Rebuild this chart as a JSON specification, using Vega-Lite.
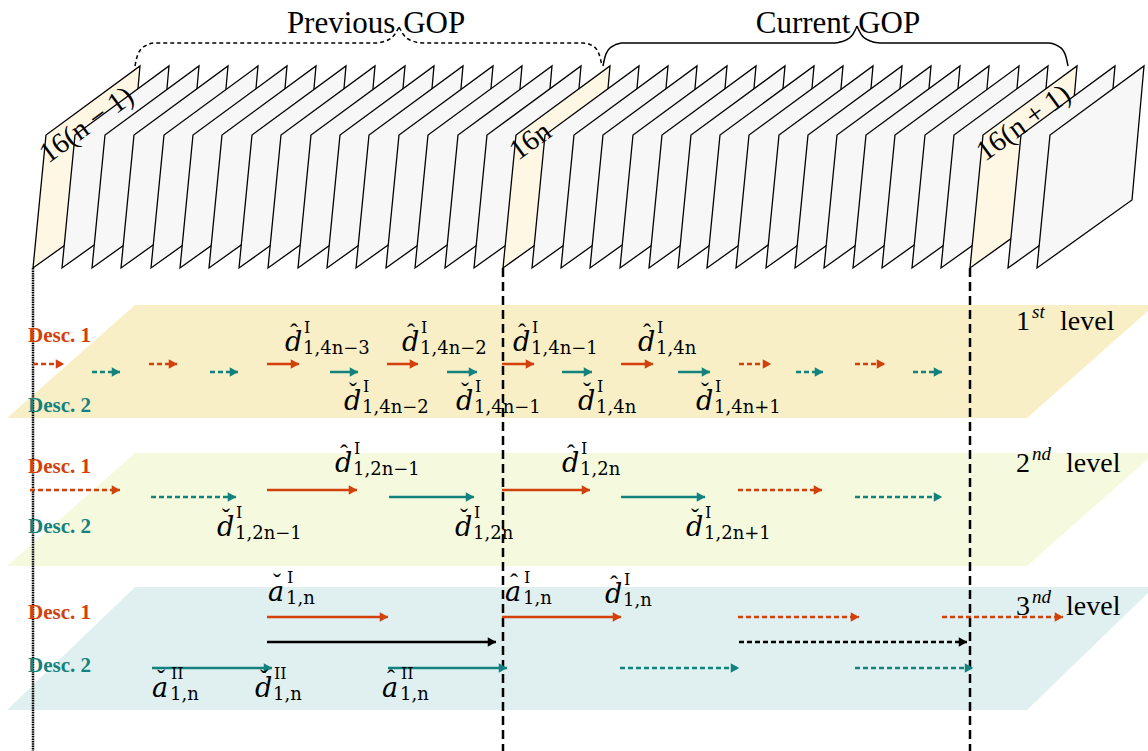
{
"$schema": "https://vega.github.io/schema/vega-lite/v6.json",
"width": 1148, "height": 751, "padding": 0,
"autosize": {"type": "none"},
"background": "white",
"config": {"view": {"stroke": null}},
"datasets": {
"planes": [
{"p":"p1","k":1,"x":7,"y":418},{"p":"p1","k":2,"x":135,"y":305},{"p":"p1","k":3,"x":1148,"y":305},{"p":"p1","k":4,"x":1148,"y":311},{"p":"p1","k":5,"x":1027,"y":418},
{"p":"p2","k":1,"x":7,"y":566},{"p":"p2","k":2,"x":135,"y":453},{"p":"p2","k":3,"x":1148,"y":453},{"p":"p2","k":4,"x":1148,"y":459},{"p":"p2","k":5,"x":1027,"y":566},
{"p":"p3","k":1,"x":7,"y":710},{"p":"p3","k":2,"x":135,"y":587},{"p":"p3","k":3,"x":1148,"y":587},{"p":"p3","k":4,"x":1148,"y":593},{"p":"p3","k":5,"x":1027,"y":710}
],
"frames": [
{"f":"f00","c":"y","k":1,"x":33,"y":268},{"f":"f00","c":"y","k":2,"x":46,"y":135},{"f":"f00","c":"y","k":3,"x":140,"y":66},{"f":"f00","c":"y","k":4,"x":128,"y":200},
{"f":"f01","c":"w","k":1,"x":62,"y":268},{"f":"f01","c":"w","k":2,"x":75,"y":135},{"f":"f01","c":"w","k":3,"x":169,"y":66},{"f":"f01","c":"w","k":4,"x":157,"y":200},
{"f":"f02","c":"w","k":1,"x":92,"y":268},{"f":"f02","c":"w","k":2,"x":105,"y":135},{"f":"f02","c":"w","k":3,"x":199,"y":66},{"f":"f02","c":"w","k":4,"x":187,"y":200},
{"f":"f03","c":"w","k":1,"x":121,"y":268},{"f":"f03","c":"w","k":2,"x":134,"y":135},{"f":"f03","c":"w","k":3,"x":228,"y":66},{"f":"f03","c":"w","k":4,"x":216,"y":200},
{"f":"f04","c":"w","k":1,"x":151,"y":268},{"f":"f04","c":"w","k":2,"x":164,"y":135},{"f":"f04","c":"w","k":3,"x":258,"y":66},{"f":"f04","c":"w","k":4,"x":246,"y":200},
{"f":"f05","c":"w","k":1,"x":180,"y":268},{"f":"f05","c":"w","k":2,"x":193,"y":135},{"f":"f05","c":"w","k":3,"x":287,"y":66},{"f":"f05","c":"w","k":4,"x":275,"y":200},
{"f":"f06","c":"w","k":1,"x":209,"y":268},{"f":"f06","c":"w","k":2,"x":222,"y":135},{"f":"f06","c":"w","k":3,"x":316,"y":66},{"f":"f06","c":"w","k":4,"x":304,"y":200},
{"f":"f07","c":"w","k":1,"x":239,"y":268},{"f":"f07","c":"w","k":2,"x":252,"y":135},{"f":"f07","c":"w","k":3,"x":346,"y":66},{"f":"f07","c":"w","k":4,"x":334,"y":200},
{"f":"f08","c":"w","k":1,"x":268,"y":268},{"f":"f08","c":"w","k":2,"x":281,"y":135},{"f":"f08","c":"w","k":3,"x":375,"y":66},{"f":"f08","c":"w","k":4,"x":363,"y":200},
{"f":"f09","c":"w","k":1,"x":298,"y":268},{"f":"f09","c":"w","k":2,"x":311,"y":135},{"f":"f09","c":"w","k":3,"x":405,"y":66},{"f":"f09","c":"w","k":4,"x":393,"y":200},
{"f":"f10","c":"w","k":1,"x":327,"y":268},{"f":"f10","c":"w","k":2,"x":340,"y":135},{"f":"f10","c":"w","k":3,"x":434,"y":66},{"f":"f10","c":"w","k":4,"x":422,"y":200},
{"f":"f11","c":"w","k":1,"x":356,"y":268},{"f":"f11","c":"w","k":2,"x":369,"y":135},{"f":"f11","c":"w","k":3,"x":463,"y":66},{"f":"f11","c":"w","k":4,"x":451,"y":200},
{"f":"f12","c":"w","k":1,"x":386,"y":268},{"f":"f12","c":"w","k":2,"x":399,"y":135},{"f":"f12","c":"w","k":3,"x":493,"y":66},{"f":"f12","c":"w","k":4,"x":481,"y":200},
{"f":"f13","c":"w","k":1,"x":415,"y":268},{"f":"f13","c":"w","k":2,"x":428,"y":135},{"f":"f13","c":"w","k":3,"x":522,"y":66},{"f":"f13","c":"w","k":4,"x":510,"y":200},
{"f":"f14","c":"w","k":1,"x":445,"y":268},{"f":"f14","c":"w","k":2,"x":458,"y":135},{"f":"f14","c":"w","k":3,"x":552,"y":66},{"f":"f14","c":"w","k":4,"x":540,"y":200},
{"f":"f15","c":"w","k":1,"x":474,"y":268},{"f":"f15","c":"w","k":2,"x":487,"y":135},{"f":"f15","c":"w","k":3,"x":581,"y":66},{"f":"f15","c":"w","k":4,"x":569,"y":200},
{"f":"f16","c":"y","k":1,"x":503,"y":268},{"f":"f16","c":"y","k":2,"x":516,"y":135},{"f":"f16","c":"y","k":3,"x":610,"y":66},{"f":"f16","c":"y","k":4,"x":598,"y":200},
{"f":"f17","c":"w","k":1,"x":532,"y":268},{"f":"f17","c":"w","k":2,"x":545,"y":135},{"f":"f17","c":"w","k":3,"x":639,"y":66},{"f":"f17","c":"w","k":4,"x":627,"y":200},
{"f":"f18","c":"w","k":1,"x":561,"y":268},{"f":"f18","c":"w","k":2,"x":574,"y":135},{"f":"f18","c":"w","k":3,"x":668,"y":66},{"f":"f18","c":"w","k":4,"x":656,"y":200},
{"f":"f19","c":"w","k":1,"x":590,"y":268},{"f":"f19","c":"w","k":2,"x":603,"y":135},{"f":"f19","c":"w","k":3,"x":697,"y":66},{"f":"f19","c":"w","k":4,"x":685,"y":200},
{"f":"f20","c":"w","k":1,"x":620,"y":268},{"f":"f20","c":"w","k":2,"x":633,"y":135},{"f":"f20","c":"w","k":3,"x":727,"y":66},{"f":"f20","c":"w","k":4,"x":715,"y":200},
{"f":"f21","c":"w","k":1,"x":649,"y":268},{"f":"f21","c":"w","k":2,"x":662,"y":135},{"f":"f21","c":"w","k":3,"x":756,"y":66},{"f":"f21","c":"w","k":4,"x":744,"y":200},
{"f":"f22","c":"w","k":1,"x":678,"y":268},{"f":"f22","c":"w","k":2,"x":691,"y":135},{"f":"f22","c":"w","k":3,"x":785,"y":66},{"f":"f22","c":"w","k":4,"x":773,"y":200},
{"f":"f23","c":"w","k":1,"x":707,"y":268},{"f":"f23","c":"w","k":2,"x":720,"y":135},{"f":"f23","c":"w","k":3,"x":814,"y":66},{"f":"f23","c":"w","k":4,"x":802,"y":200},
{"f":"f24","c":"w","k":1,"x":736,"y":268},{"f":"f24","c":"w","k":2,"x":749,"y":135},{"f":"f24","c":"w","k":3,"x":843,"y":66},{"f":"f24","c":"w","k":4,"x":831,"y":200},
{"f":"f25","c":"w","k":1,"x":766,"y":268},{"f":"f25","c":"w","k":2,"x":779,"y":135},{"f":"f25","c":"w","k":3,"x":873,"y":66},{"f":"f25","c":"w","k":4,"x":861,"y":200},
{"f":"f26","c":"w","k":1,"x":795,"y":268},{"f":"f26","c":"w","k":2,"x":808,"y":135},{"f":"f26","c":"w","k":3,"x":902,"y":66},{"f":"f26","c":"w","k":4,"x":890,"y":200},
{"f":"f27","c":"w","k":1,"x":824,"y":268},{"f":"f27","c":"w","k":2,"x":837,"y":135},{"f":"f27","c":"w","k":3,"x":931,"y":66},{"f":"f27","c":"w","k":4,"x":919,"y":200},
{"f":"f28","c":"w","k":1,"x":853,"y":268},{"f":"f28","c":"w","k":2,"x":866,"y":135},{"f":"f28","c":"w","k":3,"x":960,"y":66},{"f":"f28","c":"w","k":4,"x":948,"y":200},
{"f":"f29","c":"w","k":1,"x":882,"y":268},{"f":"f29","c":"w","k":2,"x":895,"y":135},{"f":"f29","c":"w","k":3,"x":989,"y":66},{"f":"f29","c":"w","k":4,"x":977,"y":200},
{"f":"f30","c":"w","k":1,"x":912,"y":268},{"f":"f30","c":"w","k":2,"x":925,"y":135},{"f":"f30","c":"w","k":3,"x":1019,"y":66},{"f":"f30","c":"w","k":4,"x":1007,"y":200},
{"f":"f31","c":"w","k":1,"x":941,"y":268},{"f":"f31","c":"w","k":2,"x":954,"y":135},{"f":"f31","c":"w","k":3,"x":1048,"y":66},{"f":"f31","c":"w","k":4,"x":1036,"y":200},
{"f":"f32","c":"y","k":1,"x":970,"y":268},{"f":"f32","c":"y","k":2,"x":983,"y":135},{"f":"f32","c":"y","k":3,"x":1077,"y":66},{"f":"f32","c":"y","k":4,"x":1065,"y":200},
{"f":"f33","c":"w","k":1,"x":1008,"y":268},{"f":"f33","c":"w","k":2,"x":1021,"y":135},{"f":"f33","c":"w","k":3,"x":1115,"y":66},{"f":"f33","c":"w","k":4,"x":1103,"y":200},
{"f":"f34","c":"w","k":1,"x":1037,"y":268},{"f":"f34","c":"w","k":2,"x":1050,"y":135},{"f":"f34","c":"w","k":3,"x":1144,"y":66},{"f":"f34","c":"w","k":4,"x":1132,"y":200}
],
"braces": [
{"b":"pL","ls":"bdash","k":1,"x":135,"y":66},{"b":"pL","ls":"bdash","k":2,"x":138,"y":54},{"b":"pL","ls":"bdash","k":3,"x":145,"y":46},{"b":"pL","ls":"bdash","k":4,"x":155,"y":43},{"b":"pL","ls":"bdash","k":5,"x":375,"y":43},{"b":"pL","ls":"bdash","k":6,"x":388,"y":40},{"b":"pL","ls":"bdash","k":7,"x":395,"y":34},{"b":"pL","ls":"bdash","k":8,"x":399,"y":27},
{"b":"pR","ls":"bdash","k":1,"x":399,"y":27},{"b":"pR","ls":"bdash","k":2,"x":403,"y":34},{"b":"pR","ls":"bdash","k":3,"x":410,"y":40},{"b":"pR","ls":"bdash","k":4,"x":423,"y":43},{"b":"pR","ls":"bdash","k":5,"x":583,"y":43},{"b":"pR","ls":"bdash","k":6,"x":593,"y":46},{"b":"pR","ls":"bdash","k":7,"x":599,"y":54},{"b":"pR","ls":"bdash","k":8,"x":602,"y":66},
{"b":"cL","ls":"solid","k":1,"x":603,"y":66},{"b":"cL","ls":"solid","k":2,"x":606,"y":54},{"b":"cL","ls":"solid","k":3,"x":613,"y":46},{"b":"cL","ls":"solid","k":4,"x":623,"y":43},{"b":"cL","ls":"solid","k":5,"x":833,"y":43},{"b":"cL","ls":"solid","k":6,"x":846,"y":40},{"b":"cL","ls":"solid","k":7,"x":853,"y":34},{"b":"cL","ls":"solid","k":8,"x":857,"y":26},
{"b":"cR","ls":"solid","k":1,"x":857,"y":26},{"b":"cR","ls":"solid","k":2,"x":861,"y":34},{"b":"cR","ls":"solid","k":3,"x":868,"y":40},{"b":"cR","ls":"solid","k":4,"x":881,"y":43},{"b":"cR","ls":"solid","k":5,"x":1048,"y":43},{"b":"cR","ls":"solid","k":6,"x":1058,"y":46},{"b":"cR","ls":"solid","k":7,"x":1065,"y":54},{"b":"cR","ls":"solid","k":8,"x":1068,"y":66}
],
"flabels": [
{"t":"16(n − 1)","x":48,"y":164},
{"t":"16n","x":518,"y":161},
{"t":"16(n + 1)","x":985,"y":162}
],
"titles": [
{"t":"Previous GOP","x":376,"y":33},
{"t":"Current GOP","x":838,"y":33}
],
"vlines": [
{"x":33,"y1":268,"y2":751,"ls":"dot"},
{"x":503,"y1":268,"y2":751,"ls":"vdash"},
{"x":970,"y1":268,"y2":751,"ls":"vdash"}
],
"arrows": [
{"x1":33,"x2":64,"y":364,"d":"d1","ls":"dashed"},
{"x1":149,"x2":177,"y":364,"d":"d1","ls":"dashed"},
{"x1":267,"x2":299,"y":364,"d":"d1","ls":"solid"},
{"x1":387,"x2":418,"y":364,"d":"d1","ls":"solid"},
{"x1":502,"x2":534,"y":364,"d":"d1","ls":"solid"},
{"x1":621,"x2":653,"y":364,"d":"d1","ls":"solid"},
{"x1":739,"x2":771,"y":364,"d":"d1","ls":"dashed"},
{"x1":855,"x2":885,"y":364,"d":"d1","ls":"dashed"},
{"x1":92,"x2":120,"y":372,"d":"d2","ls":"dashed"},
{"x1":210,"x2":238,"y":372,"d":"d2","ls":"dashed"},
{"x1":330,"x2":358,"y":372,"d":"d2","ls":"solid"},
{"x1":447,"x2":477,"y":372,"d":"d2","ls":"solid"},
{"x1":562,"x2":592,"y":372,"d":"d2","ls":"solid"},
{"x1":678,"x2":710,"y":372,"d":"d2","ls":"solid"},
{"x1":796,"x2":823,"y":372,"d":"d2","ls":"dashed"},
{"x1":913,"x2":942,"y":372,"d":"d2","ls":"dashed"},
{"x1":30,"x2":120,"y":490,"d":"d1","ls":"dashed"},
{"x1":267,"x2":357,"y":490,"d":"d1","ls":"solid"},
{"x1":502,"x2":590,"y":490,"d":"d1","ls":"solid"},
{"x1":738,"x2":822,"y":490,"d":"d1","ls":"dashed"},
{"x1":151,"x2":236,"y":497,"d":"d2","ls":"dashed"},
{"x1":389,"x2":474,"y":497,"d":"d2","ls":"solid"},
{"x1":621,"x2":705,"y":497,"d":"d2","ls":"solid"},
{"x1":855,"x2":942,"y":497,"d":"d2","ls":"dashed"},
{"x1":267,"x2":388,"y":617,"d":"d1","ls":"solid"},
{"x1":502,"x2":621,"y":617,"d":"d1","ls":"solid"},
{"x1":738,"x2":859,"y":617,"d":"d1","ls":"dashed"},
{"x1":942,"x2":1063,"y":617,"d":"d1","ls":"dashed"},
{"x1":267,"x2":496,"y":642,"d":"k","ls":"solid"},
{"x1":739,"x2":967,"y":642,"d":"k","ls":"dashed"},
{"x1":152,"x2":272,"y":668,"d":"d2","ls":"solid"},
{"x1":388,"x2":507,"y":668,"d":"d2","ls":"solid"},
{"x1":620,"x2":739,"y":668,"d":"d2","ls":"dashed"},
{"x1":855,"x2":973,"y":668,"d":"d2","ls":"dashed"}
],
"desc": [
{"t":"Desc. 1","d":"d1","x":28,"y":342},
{"t":"Desc. 2","d":"d2","x":28,"y":412},
{"t":"Desc. 1","d":"d1","x":28,"y":473},
{"t":"Desc. 2","d":"d2","x":28,"y":533},
{"t":"Desc. 1","d":"d1","x":28,"y":619},
{"t":"Desc. 2","d":"d2","x":28,"y":672}
],
"math": [
{"b":"d","a":"ˆ","sp":"I","sb":"1,4n−3","x":285,"y":351},
{"b":"d","a":"ˆ","sp":"I","sb":"1,4n−2","x":402,"y":351},
{"b":"d","a":"ˆ","sp":"I","sb":"1,4n−1","x":513,"y":351},
{"b":"d","a":"ˆ","sp":"I","sb":"1,4n","x":638,"y":351},
{"b":"d","a":"ˇ","sp":"I","sb":"1,4n−2","x":344,"y":410},
{"b":"d","a":"ˇ","sp":"I","sb":"1,4n−1","x":456,"y":410},
{"b":"d","a":"ˇ","sp":"I","sb":"1,4n","x":578,"y":410},
{"b":"d","a":"ˇ","sp":"I","sb":"1,4n+1","x":696,"y":410},
{"b":"d","a":"ˆ","sp":"I","sb":"1,2n−1","x":335,"y":472},
{"b":"d","a":"ˆ","sp":"I","sb":"1,2n","x":562,"y":472},
{"b":"d","a":"ˇ","sp":"I","sb":"1,2n−1","x":217,"y":536},
{"b":"d","a":"ˇ","sp":"I","sb":"1,2n","x":455,"y":536},
{"b":"d","a":"ˇ","sp":"I","sb":"1,2n+1","x":686,"y":536},
{"b":"a","a":"ˇ","sp":"I","sb":"1,n","x":268,"y":601},
{"b":"a","a":"ˆ","sp":"I","sb":"1,n","x":505,"y":601},
{"b":"d","a":"ˆ","sp":"I","sb":"1,n","x":605,"y":603},
{"b":"a","a":"ˇ","sp":"II","sb":"1,n","x":152,"y":697},
{"b":"d","a":"ˇ","sp":"II","sb":"1,n","x":255,"y":697},
{"b":"a","a":"ˆ","sp":"II","sb":"1,n","x":382,"y":697}
],
"levels": [
{"n":"1","s":"st","w":"level","x":1016,"xw":1060,"y":330},
{"n":"2","s":"nd","w":"level","x":1016,"xw":1066,"y":472},
{"n":"3","s":"nd","w":"level","x":1016,"xw":1066,"y":615}
]
},
"layer": [
{"data":{"name":"planes"},
 "mark":{"type":"line","interpolate":"linear-closed","strokeWidth":0},
 "encoding":{
  "x":{"field":"x","type":"quantitative","scale":{"domain":[0,1148],"nice":false,"zero":false},"axis":null},
  "y":{"field":"y","type":"quantitative","scale":{"domain":[0,751],"nice":false,"zero":false,"reverse":true},"axis":null},
  "order":{"field":"k","type":"quantitative"},
  "detail":{"field":"p","type":"nominal"},
  "fill":{"field":"p","type":"nominal","scale":{"domain":["y","w","p1","p2","p3"],"range":["#fdf7e3","#f7f7f7","#f9efc6","#f5fade","#e0f0f0"]},"legend":null}
 }},
{"data":{"name":"frames"},
 "mark":{"type":"line","interpolate":"linear-closed","stroke":"#000000","strokeWidth":1.3,"strokeJoin":"miter"},
 "encoding":{
  "x":{"field":"x","type":"quantitative","scale":{"domain":[0,1148],"nice":false,"zero":false},"axis":null},
  "y":{"field":"y","type":"quantitative","scale":{"domain":[0,751],"nice":false,"zero":false,"reverse":true},"axis":null},
  "order":{"field":"k","type":"quantitative"},
  "detail":{"field":"f","type":"nominal"},
  "fill":{"field":"c","type":"nominal","scale":{"domain":["y","w","p1","p2","p3"],"range":["#fdf7e3","#f7f7f7","#f9efc6","#f5fade","#e0f0f0"]},"legend":null}
 }},
{"data":{"name":"braces"},
 "mark":{"type":"line","interpolate":"monotone","color":"#000000","strokeWidth":1.5},
 "encoding":{
  "x":{"field":"x","type":"quantitative","scale":{"domain":[0,1148],"nice":false,"zero":false},"axis":null},
  "y":{"field":"y","type":"quantitative","scale":{"domain":[0,751],"nice":false,"zero":false,"reverse":true},"axis":null},
  "order":{"field":"k","type":"quantitative"},
  "detail":{"field":"b","type":"nominal"},
  "strokeDash":{"field":"ls","type":"nominal","scale":{"domain":["solid","dashed","dot","vdash","bdash"],"range":[[1,0],[5,3],[1.6,0.8],[9,5],[4,3]]},"legend":null}
 }},
{"data":{"name":"flabels"},
 "mark":{"type":"text","font":"Liberation Serif","fontSize":29,"angle":324,"align":"left","baseline":"alphabetic","color":"#000000"},
 "encoding":{
  "x":{"field":"x","type":"quantitative","scale":{"domain":[0,1148],"nice":false,"zero":false},"axis":null},
  "y":{"field":"y","type":"quantitative","scale":{"domain":[0,751],"nice":false,"zero":false,"reverse":true},"axis":null},
  "text":{"field":"t"}
 }},
{"data":{"name":"titles"},
 "mark":{"type":"text","font":"Liberation Serif","fontSize":31,"align":"center","baseline":"alphabetic","color":"#000000"},
 "encoding":{
  "x":{"field":"x","type":"quantitative","scale":{"domain":[0,1148],"nice":false,"zero":false},"axis":null},
  "y":{"field":"y","type":"quantitative","scale":{"domain":[0,751],"nice":false,"zero":false,"reverse":true},"axis":null},
  "text":{"field":"t"}
 }},
{"data":{"name":"vlines"},
 "mark":{"type":"rule","color":"#000000","strokeWidth":2.5},
 "encoding":{
  "x":{"field":"x","type":"quantitative","scale":{"domain":[0,1148],"nice":false,"zero":false},"axis":null},
  "y":{"field":"y1","type":"quantitative","scale":{"domain":[0,751],"nice":false,"zero":false,"reverse":true},"axis":null},
  "y2":{"field":"y2"},
  "strokeDash":{"field":"ls","type":"nominal","scale":{"domain":["solid","dashed","dot","vdash","bdash"],"range":[[1,0],[5,3],[1.6,0.8],[9,5],[4,3]]},"legend":null}
 }},
{"data":{"name":"arrows"},
 "mark":{"type":"rule","strokeWidth":2.5},
 "encoding":{
  "x":{"field":"x1","type":"quantitative","scale":{"domain":[0,1148],"nice":false,"zero":false},"axis":null},
  "x2":{"field":"x2"},
  "y":{"field":"y","type":"quantitative","scale":{"domain":[0,751],"nice":false,"zero":false,"reverse":true},"axis":null},
  "color":{"field":"d","type":"nominal","scale":{"domain":["d1","d2","k"],"range":["#d2410c","#12827e","#000000"]},"legend":null},
  "strokeDash":{"field":"ls","type":"nominal","scale":{"domain":["solid","dashed","dot","vdash","bdash"],"range":[[1,0],[5,3],[1.6,0.8],[9,5],[4,3]]},"legend":null}
 }},
{"data":{"name":"arrows"},
 "mark":{"type":"point","shape":"triangle-right","filled":true,"size":95,"opacity":1,"strokeWidth":0,"xOffset":-4},
 "encoding":{
  "x":{"field":"x2","type":"quantitative","scale":{"domain":[0,1148],"nice":false,"zero":false},"axis":null},
  "y":{"field":"y","type":"quantitative","scale":{"domain":[0,751],"nice":false,"zero":false,"reverse":true},"axis":null},
  "color":{"field":"d","type":"nominal","scale":{"domain":["d1","d2","k"],"range":["#d2410c","#12827e","#000000"]},"legend":null}
 }},
{"data":{"name":"desc"},
 "mark":{"type":"text","font":"Liberation Serif","fontSize":21,"fontWeight":"bold","align":"left","baseline":"alphabetic"},
 "encoding":{
  "x":{"field":"x","type":"quantitative","scale":{"domain":[0,1148],"nice":false,"zero":false},"axis":null},
  "y":{"field":"y","type":"quantitative","scale":{"domain":[0,751],"nice":false,"zero":false,"reverse":true},"axis":null},
  "text":{"field":"t"},
  "color":{"field":"d","type":"nominal","scale":{"domain":["d1","d2","k"],"range":["#d2410c","#12827e","#000000"]},"legend":null}
 }},
{"data":{"name":"math"},
 "mark":{"type":"text","font":"DejaVu Serif","fontSize":27,"fontStyle":"italic","align":"left","baseline":"alphabetic","color":"#000000"},
 "encoding":{
  "x":{"field":"x","type":"quantitative","scale":{"domain":[0,1148],"nice":false,"zero":false},"axis":null},
  "y":{"field":"y","type":"quantitative","scale":{"domain":[0,751],"nice":false,"zero":false,"reverse":true},"axis":null},
  "text":{"field":"b"}
 }},
{"data":{"name":"math"},
 "mark":{"type":"text","font":"Liberation Serif","fontSize":24,"align":"center","baseline":"alphabetic","dx":9,"dy":-11,"color":"#000000"},
 "encoding":{
  "x":{"field":"x","type":"quantitative","scale":{"domain":[0,1148],"nice":false,"zero":false},"axis":null},
  "y":{"field":"y","type":"quantitative","scale":{"domain":[0,751],"nice":false,"zero":false,"reverse":true},"axis":null},
  "text":{"field":"a"}
 }},
{"data":{"name":"math"},
 "mark":{"type":"text","font":"DejaVu Serif","fontSize":16,"align":"left","baseline":"alphabetic","dx":19,"dy":-18,"color":"#000000"},
 "encoding":{
  "x":{"field":"x","type":"quantitative","scale":{"domain":[0,1148],"nice":false,"zero":false},"axis":null},
  "y":{"field":"y","type":"quantitative","scale":{"domain":[0,751],"nice":false,"zero":false,"reverse":true},"axis":null},
  "text":{"field":"sp"}
 }},
{"data":{"name":"math"},
 "mark":{"type":"text","font":"DejaVu Serif","fontSize":18,"align":"left","baseline":"alphabetic","dx":18,"dy":3,"color":"#000000"},
 "encoding":{
  "x":{"field":"x","type":"quantitative","scale":{"domain":[0,1148],"nice":false,"zero":false},"axis":null},
  "y":{"field":"y","type":"quantitative","scale":{"domain":[0,751],"nice":false,"zero":false,"reverse":true},"axis":null},
  "text":{"field":"sb"}
 }},
{"data":{"name":"levels"},
 "mark":{"type":"text","font":"Liberation Serif","fontSize":28,"align":"left","baseline":"alphabetic","color":"#000000"},
 "encoding":{
  "x":{"field":"x","type":"quantitative","scale":{"domain":[0,1148],"nice":false,"zero":false},"axis":null},
  "y":{"field":"y","type":"quantitative","scale":{"domain":[0,751],"nice":false,"zero":false,"reverse":true},"axis":null},
  "text":{"field":"n"}
 }},
{"data":{"name":"levels"},
 "mark":{"type":"text","font":"Liberation Serif","fontSize":19,"fontStyle":"italic","align":"left","baseline":"alphabetic","dx":16,"dy":-12,"color":"#000000"},
 "encoding":{
  "x":{"field":"x","type":"quantitative","scale":{"domain":[0,1148],"nice":false,"zero":false},"axis":null},
  "y":{"field":"y","type":"quantitative","scale":{"domain":[0,751],"nice":false,"zero":false,"reverse":true},"axis":null},
  "text":{"field":"s"}
 }},
{"data":{"name":"levels"},
 "mark":{"type":"text","font":"Liberation Serif","fontSize":28,"align":"left","baseline":"alphabetic","color":"#000000"},
 "encoding":{
  "x":{"field":"xw","type":"quantitative","scale":{"domain":[0,1148],"nice":false,"zero":false},"axis":null},
  "y":{"field":"y","type":"quantitative","scale":{"domain":[0,751],"nice":false,"zero":false,"reverse":true},"axis":null},
  "text":{"field":"w"}
 }}
]
}
